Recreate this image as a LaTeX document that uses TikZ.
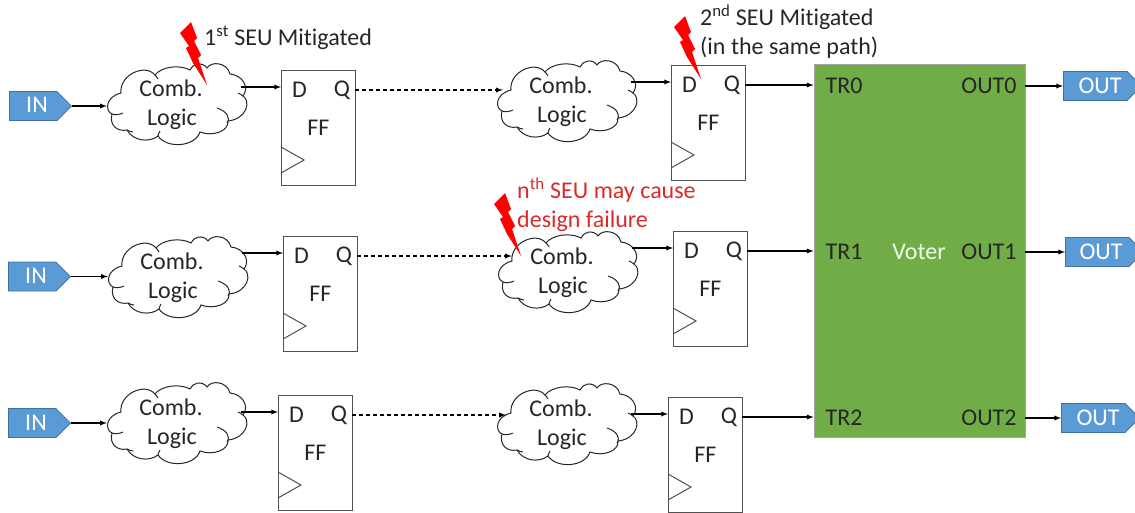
\documentclass[tikz,border=0pt]{standalone}
\usepackage{fontspec}
\setmainfont[Ligatures=NoCommon]{Carlito}
\usetikzlibrary{shapes.symbols}
\definecolor{tagblue}{HTML}{5B9BD5}
\definecolor{tagedge}{HTML}{41719C}
\definecolor{votergreen}{HTML}{70AD47}
\definecolor{seured}{HTML}{DA2A2A}
\definecolor{ink}{HTML}{262626}
\tikzset{
	lbl/.style={inner sep=0pt,text=ink,font=\fontsize{24}{29}\selectfont},
	wire/.style={-latex,line width=1.3pt,black},
	dashwire/.style={wire,dash pattern=on 4pt off 3pt},
	cloudline/.style={draw=ink,line width=1pt},
	ffbox/.style={rectangle,draw=ink!80,line width=1pt,minimum width=74pt,minimum height=115pt,inner sep=0pt},
	intag/.style={signal,signal to=east,signal pointer angle=90,draw=tagedge,line width=.8pt,fill=tagblue,inner sep=0pt,minimum height=29pt,anchor=east},
	bolt/.style={fill=red,draw=none},
}
\newcommand{\flipflop}[3]{
	\node[ffbox] (#1) at (#2+37,#3+57.5) {};
	\node[lbl] (#1D) at (#2+18.5,#3+20) {D};
	\node[lbl] (#1Q) at (#2+61,#3+20) {Q};
	\node[lbl] (#1F) at (#2+37.5,#3+58) {FF};
	\draw[ink!80,line width=1pt] (#2,#3+77) -- (#2+23,#3+90) -- (#2,#3+103);
	\coordinate (#1in) at (#2,#3+17);
	\coordinate (#1out) at (#2+74,#3+20);
}
\newcommand{\logicblock}[3]{
	\begin{scope}[shift={(#2,#3)}]
		\node[rectangle,minimum width=140pt,minimum height=80pt,inner sep=0pt] (#1) at (0,0) {};
		\filldraw[cloudline,fill=white] (-56,-12) .. controls (-58,-30) and (-32,-42) .. (-22,-30)
			.. controls (-16,-38) and (2,-41) .. (13,-35)
			.. controls (15,-41) and (25,-44) .. (30,-37)
			.. controls (34,-44) and (50,-43) .. (53,-31)
			.. controls (65,-30) and (73,-18) .. (66,-9)
			.. controls (74,-4) and (70,14) .. (51,16)
			.. controls (52,26) and (36,32) .. (23,27)
			.. controls (18,42) and (-10,44) .. (-19,31)
			.. controls (-28,38) and (-44,36) .. (-50,25)
			.. controls (-60,27) and (-68,20) .. (-65,9)
			.. controls (-72,6) and (-72,-8) .. cycle;
		\draw[cloudline] (40,3) .. controls (49,6) and (54,12) .. (50,18);
		\draw[cloudline] (-65,9) .. controls (-62,10) and (-58,10) .. (-54,8);
		\draw[cloudline] (61,-12) .. controls (63,-11) and (65,-10) .. (66,-9);
		\draw[cloudline] (-22,-30) .. controls (-21,-29) and (-20,-28) .. (-19,-26);
		\draw[cloudline] (-50,25) .. controls (-48,26) and (-46,27) .. (-44,27);
		\draw[cloudline] (-19,31) .. controls (-19,30) and (-18,28) .. (-17,26);
		\node[lbl] (#1a) at (-6,-17) {Comb.};
		\node[lbl] (#1b) at (-5,14) {Logic};
	\end{scope}
}
\newcommand{\seubolt}[2]{
	\begin{scope}[shift={(#1,#2)}]
		\fill[bolt] (0,0) -- (-9,-27) -- (-6,-30) -- (-13,-44) -- (-10,-47) -- (-16,-63) -- (-27,-52) -- (-18,-39) -- (-21,-37) -- (-14,-22) -- cycle;
	\end{scope}
}
\begin{document}
\begin{tikzpicture}[x=1pt,y=-1pt]
	\useasboundingbox (0,0) rectangle (1135,512);
	\node[intag,minimum width=62pt] (inA) at (72,106) {};
	\node[intag,minimum width=62pt] (inB) at (71,276.5) {};
	\node[intag,minimum width=62pt] (inC) at (71,423) {};
	\node[lbl,text=white] (inAt) at (37,105) {IN};
	\node[lbl,text=white] (inBt) at (36,276) {IN};
	\node[lbl,text=white] (inCt) at (36,423) {IN};
	\logicblock{clA}{177}{105}
	\logicblock{clB}{178}{278}
	\logicblock{clC}{177}{424}
	\logicblock{clD}{567}{102}
	\logicblock{clE}{568}{273}
	\logicblock{clF}{567}{425}
	\flipflop{ffA}{281}{70}
	\flipflop{ffB}{283}{236}
	\flipflop{ffC}{278}{395}
	\flipflop{ffD}{671}{65}
	\flipflop{ffE}{673}{231}
	\flipflop{ffF}{668}{397}
	\node[rectangle,draw=gray!70,line width=.8pt,fill=votergreen,minimum width=211pt,minimum height=373pt,inner sep=0pt] (voter) at (919.5,250.5) {};
	\node[lbl] (trA) at (844,86) {TR0};
	\node[lbl] (trB) at (844,252) {TR1};
	\node[lbl] (trC) at (844,418) {TR2};
	\node[lbl] (outA) at (989,86) {OUT0};
	\node[lbl] (outB) at (989,252) {OUT1};
	\node[lbl] (outC) at (989,418) {OUT2};
	\node[lbl,text=white!92!green] (votername) at (919,252) {Voter};
	\node[intag,minimum width=78pt] (tagA) at (1142,86) {};
	\node[intag,minimum width=78pt] (tagB) at (1144,252) {};
	\node[intag,minimum width=78pt] (tagC) at (1140,418) {};
	\node[lbl,text=white] (tagAt) at (1100,86) {OUT};
	\node[lbl,text=white] (tagBt) at (1101,252) {OUT};
	\node[lbl,text=white] (tagCt) at (1098,418) {OUT};
	\draw[wire] (inA.east) -- (inA.east -| clA.west);
	\draw[wire] (inB.east) -- (inB.east -| clB.west);
	\draw[wire] (inC.east) -- (inC.east -| clC.west);
	\draw[wire,shorten <=-6pt] (clA.east |- ffAin) -- (ffAin);
	\draw[wire,shorten <=-6pt] (clB.east |- ffBin) -- (ffBin);
	\draw[wire,shorten <=-6pt] (clC.east |- ffCin) -- (ffCin);
	\draw[wire,shorten <=-6pt] (clD.east |- ffDin) -- (ffDin);
	\draw[wire,shorten <=-6pt] (clE.east |- ffEin) -- (ffEin);
	\draw[wire,shorten <=-6pt] (clF.east |- ffFin) -- (ffFin);
	\draw[dashwire,shorten >=-6pt] (ffAout) -- (ffAout -| clD.west);
	\draw[dashwire,shorten >=-14pt] (ffBout) -- (ffBout -| clE.west);
	\draw[dashwire,shorten >=-9pt] (ffCout) -- (ffCout -| clF.west);
	\draw[wire] (ffDout) -- (ffDout -| voter.west);
	\draw[wire] (ffEout) -- (ffEout -| voter.west);
	\draw[wire] (ffFout) -- (ffFout -| voter.west);
	\draw[wire] (voter.east |- outA) -- (tagA.west |- outA);
	\draw[wire] (voter.east |- outB) -- (tagB.west |- outB);
	\draw[wire] (voter.east |- outC) -- (tagC.west |- outC);
	\seubolt{207}{85}
	\seubolt{701}{79}
	\seubolt{521}{256}
	\node[lbl,anchor=west] (seuA) at (204,38) {1\textsuperscript{st} SEU Mitigated};
	\node[lbl,anchor=west,align=left] (seuB) at (700,32) {2\textsuperscript{nd} SEU Mitigated\\(in the same path)};
	\node[lbl,anchor=west,align=left,text=seured] (seuC) at (517,205) {n\textsuperscript{th} SEU may cause\\design failure};
\end{tikzpicture}
\end{document}
